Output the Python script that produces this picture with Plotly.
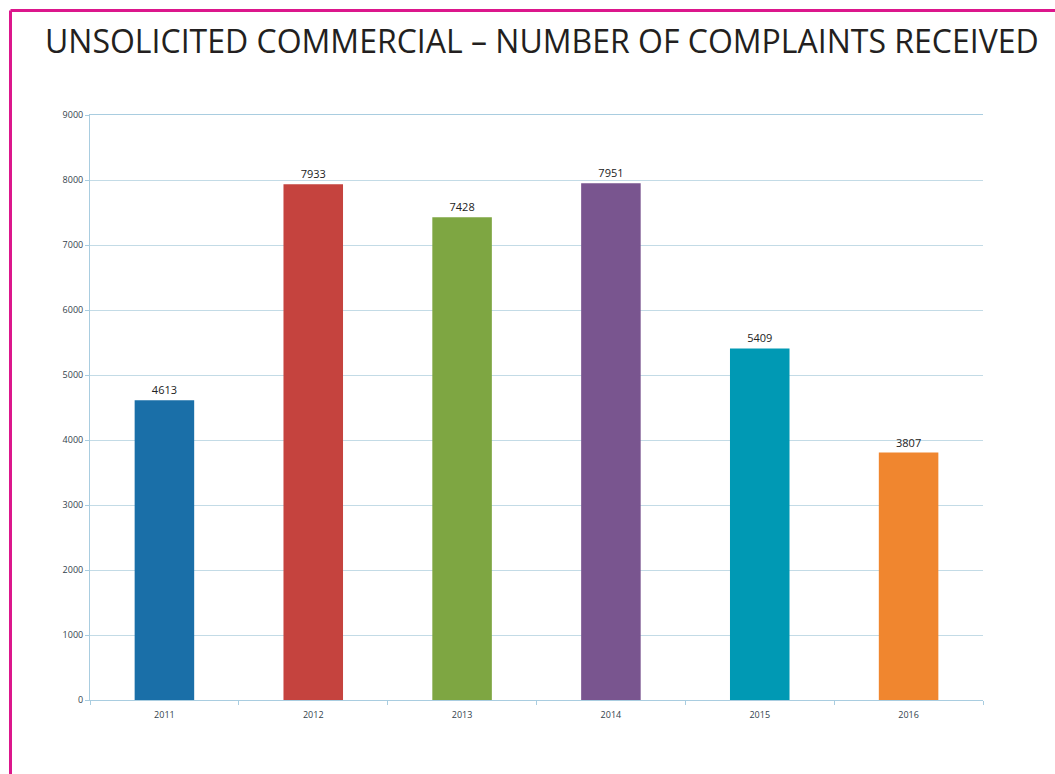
import plotly.graph_objects as go

years = ["2011", "2012", "2013", "2014", "2015", "2016"]
complaints = [4613, 7933, 7428, 7951, 5409, 3807]
bar_colors = ["#1a6fa8", "#c5433e", "#7ea642", "#79558f", "#0099b4", "#f0862f"]
y_ticks = [0, 1000, 2000, 3000, 4000, 5000, 6000, 7000, 8000, 9000]

W, H = 1055, 774
ML, MR, MT, MB = 90, 72, 115, 74
pw, ph = W - ML - MR, H - MT - MB

def px_x(x):
    return (x - ML) / pw

def px_y(y):
    return (H - MB - y) / ph

fig = go.Figure(
    go.Bar(
        x=years,
        y=complaints,
        marker=dict(color=bar_colors, line=dict(width=0)),
        text=[str(v) for v in complaints],
        textposition="outside",
        textfont=dict(family="Open Sans", size=11, color="#222222"),
        cliponaxis=False,
    )
)

fig.update_layout(
    width=W,
    height=H,
    margin=dict(l=ML, r=MR, t=MT, b=MB),
    paper_bgcolor="white",
    plot_bgcolor="white",
    bargap=0.6,
    showlegend=False,
    title=dict(
        text="UNSOLICITED COMMERCIAL – NUMBER OF COMPLAINTS RECEIVED",
        x=45 / W,
        xanchor="left",
        y=1 - 42 / H,
        yanchor="middle",
        font=dict(family="Open Sans", size=32, color="#231f20"),
    ),
    xaxis=dict(
        type="category",
        showgrid=False,
        showline=True,
        mirror=True,
        linecolor="#a9cde0",
        linewidth=1,
        ticks="outside",
        tickson="boundaries",
        ticklen=4,
        tickcolor="#a9cde0",
        ticklabelstandoff=6,
        tickfont=dict(family="Open Sans", size=9, color="#333f4c"),
    ),
    yaxis=dict(
        range=[0, 9000],
        tickvals=y_ticks,
        showgrid=True,
        gridcolor="#c3dbe6",
        gridwidth=1,
        showline=True,
        linecolor="#a9cde0",
        linewidth=1,
        ticks="outside",
        ticklen=4,
        tickcolor="#a9cde0",
        zeroline=False,
        tickfont=dict(family="Open Sans", size=9, color="#333f4c"),
    ),
    shapes=[
        dict(type="line", xref="paper", yref="paper",
             x0=px_x(10.5), x1=px_x(W + 5), y0=px_y(10.5), y1=px_y(10.5),
             line=dict(color="#dc168c", width=3)),
        dict(type="line", xref="paper", yref="paper",
             x0=px_x(10.5), x1=px_x(10.5), y0=px_y(10.5), y1=px_y(H + 5),
             line=dict(color="#dc168c", width=3)),
    ],
)

fig.write_html("out.html")
